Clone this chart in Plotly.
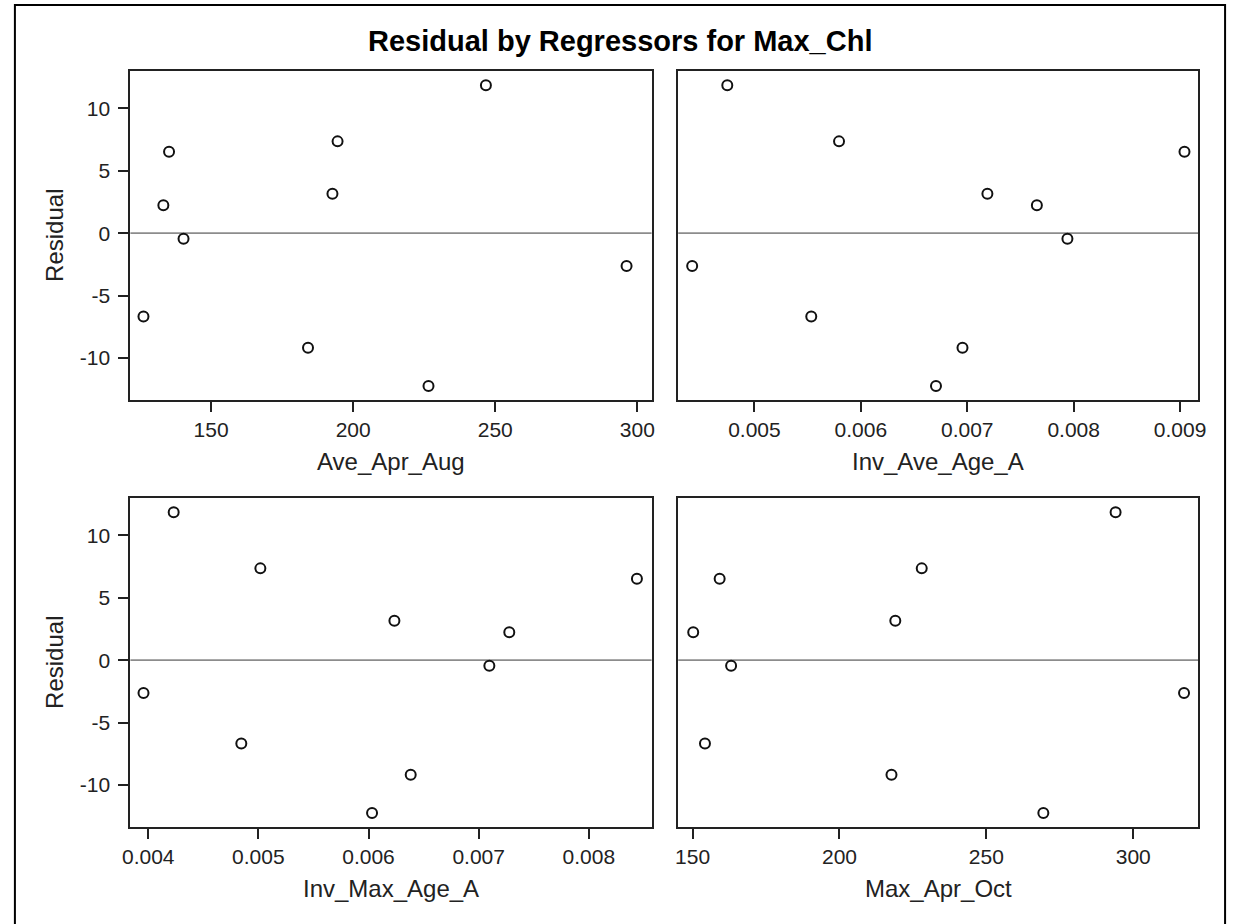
import plotly.graph_objects as go

# Residuals of the Max_Chl model, one per observation
residual = [11.85, 7.36, 6.52, 3.16, 2.24, -0.44, -2.63, -6.68, -9.18, -12.25]

# Regressor values for the same observations
ave_apr_aug = [246.7, 194.5, 135.2, 192.7, 133.2, 140.3, 296.2, 126.2, 184.1, 226.5]
inv_ave_age_a = [0.004745, 0.005795, 0.009041, 0.007189, 0.007654, 0.007941,
                 0.004415, 0.005534, 0.006955, 0.006706]
inv_max_age_a = [0.004231, 0.005018, 0.008437, 0.006235, 0.007278, 0.007097,
                 0.003957, 0.004845, 0.006383, 0.006032]
max_apr_oct = [294.0, 228.0, 159.2, 219.0, 150.2, 163.1, 317.3, 154.2, 217.7, 269.4]

# Axis ticks
resid_ticks = [-10, -5, 0, 5, 10]
resid_tick_text = ["-10", "-5", "0", "5", "10"]
ave_apr_aug_ticks = [150, 200, 250, 300]
inv_ave_age_ticks = [0.005, 0.006, 0.007, 0.008, 0.009]
inv_max_age_ticks = [0.004, 0.005, 0.006, 0.007, 0.008]
max_apr_oct_ticks = [150, 200, 250, 300]

regressor_names = ["Ave_Apr_Aug", "Inv_Ave_Age_A", "Inv_Max_Age_A", "Max_Apr_Oct"]

W, H = 1239, 924
FONT = "Liberation Sans, Arial, sans-serif"
INK = "#222222"


def px_x(p):
    return p / W


def px_y(p):
    return 1 - p / H


panels = [
    # (x values, ticks, x range, x pixel span, y pixel span, show y labels)
    (ave_apr_aug, ave_apr_aug_ticks, [121.6, 305.0], (124, 652), (71, 400), True),
    (inv_ave_age_a, inv_ave_age_ticks, [0.004284, 0.009172], (679, 1206), (71, 400), False),
    (inv_max_age_a, inv_max_age_ticks, [0.003838, 0.00857], (124, 652), (498, 827), True),
    (max_apr_oct, max_apr_oct_ticks, [145.1, 322.2], (679, 1206), (498, 827), False),
]

fig = go.Figure()
layout = {}
shapes = []
annotations = []

for i, (xs, xt, xr, (xl, xrgt), (yt, yb), show_y) in enumerate(panels):
    n = "" if i == 0 else str(i + 1)
    fig.add_trace(go.Scatter(
        x=xs, y=residual, mode="markers",
        xaxis="x" + n, yaxis="y" + n,
        marker=dict(symbol="circle-open", size=10, color="#111111",
                    line=dict(width=2, color="#111111")),
        showlegend=False, hoverinfo="x+y",
    ))
    layout["xaxis" + n] = dict(
        domain=[px_x(xl), px_x(xrgt)], range=xr, anchor="y" + n,
        tickvals=xt, ticks="outside", ticklen=10, tickwidth=1.6, tickcolor=INK,
        showline=True, mirror=True, linecolor=INK, linewidth=2,
        showgrid=False, zeroline=False,
        tickfont=dict(family=FONT, size=21, color=INK),
    )
    layout["yaxis" + n] = dict(
        domain=[px_y(yb), px_y(yt)], range=[-13.37, 13.0], anchor="x" + n,
        tickvals=resid_ticks if show_y else [],
        ticktext=resid_tick_text if show_y else [],
        ticks="outside" if show_y else "", ticklen=10, tickwidth=1.6, tickcolor=INK,
        ticklabelstandoff=4,
        showline=True, mirror=True, linecolor=INK, linewidth=2,
        showgrid=False, zeroline=False,
        tickfont=dict(family=FONT, size=21, color=INK),
    )
    # horizontal reference at zero residual
    shapes.append(dict(type="line", xref="x" + n + " domain", yref="y" + n,
                       x0=0, x1=1, y0=0, y1=0,
                       line=dict(color="#8c8c8c", width=1.8), layer="below"))
    # regressor name under the panel
    annotations.append(dict(text=regressor_names[i], xref="paper", yref="paper",
                            x=px_x((xl + xrgt) / 2), y=px_y(yb + 61),
                            xanchor="center", yanchor="middle", showarrow=False,
                            font=dict(family=FONT, size=24, color=INK)))
    if show_y:
        annotations.append(dict(text="Residual", xref="paper", yref="paper",
                                x=px_x(47), y=px_y((yt + yb) / 2), textangle=-90,
                                xanchor="center", yanchor="middle", showarrow=False,
                                font=dict(family=FONT, size=24, color=INK)))

annotations.append(dict(text="<b>Residual by Regressors for Max_Chl</b>",
                        xref="paper", yref="paper", x=0.5, y=px_y(41),
                        xanchor="center", yanchor="middle", showarrow=False,
                        font=dict(family=FONT, size=29, color="#000000")))

# outer frame around the whole graphic
shapes.append(dict(type="rect", xref="paper", yref="paper",
                   x0=px_x(7), x1=px_x(1233), y0=px_y(940), y1=px_y(5),
                   line=dict(color="#000000", width=2), fillcolor="rgba(0,0,0,0)"))

fig.update_layout(
    width=W, height=H, autosize=False,
    margin=dict(l=0, r=0, t=0, b=0),
    paper_bgcolor="white", plot_bgcolor="white",
    shapes=shapes, annotations=annotations,
    **layout,
)

fig.write_html("out.html")
